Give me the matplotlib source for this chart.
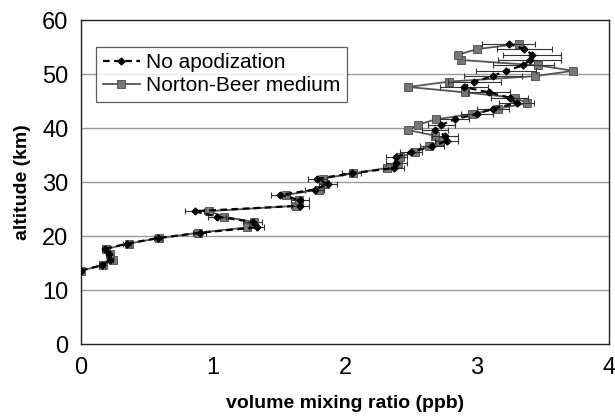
import matplotlib
matplotlib.use("Agg")
import matplotlib.pyplot as plt

plt.rcParams['font.family'] = ['Liberation Sans', 'DejaVu Sans']

altitude = [13.6, 14.6, 15.6, 16.6, 17.6, 18.6, 19.6, 20.6, 21.6, 22.6, 23.6, 24.6,
            25.6, 26.6, 27.6, 28.6, 29.6, 30.6, 31.6, 32.6, 33.6, 34.6, 35.6, 36.6,
            37.6, 38.6, 39.6, 40.6, 41.6, 42.6, 43.6, 44.6, 45.6, 46.6, 47.6, 48.6,
            49.6, 50.6, 51.6, 52.6, 53.6, 54.6, 55.6]

norton_beer = [0.00, 0.17, 0.24, 0.22, 0.19, 0.36, 0.59, 0.89, 1.26, 1.31, 1.08, 0.97,
               1.63, 1.65, 1.55, 1.80, 1.85, 1.83, 2.06, 2.32, 2.40, 2.42, 2.53, 2.64,
               2.72, 2.68, 2.48, 2.55, 2.69, 2.96, 3.16, 3.38, 3.29, 2.91, 2.48, 2.79,
               3.44, 3.73, 3.46, 2.88, 2.86, 3.00, 3.32]

no_apod = [0.00, 0.16, 0.22, 0.21, 0.18, 0.35, 0.58, 0.90, 1.33, 1.30, 1.03, 0.86,
           1.66, 1.66, 1.51, 1.77, 1.87, 1.79, 2.05, 2.37, 2.39, 2.39, 2.50, 2.66,
           2.77, 2.76, 2.68, 2.73, 2.83, 3.00, 3.12, 3.30, 3.25, 3.09, 2.90, 2.98,
           3.12, 3.22, 3.35, 3.40, 3.42, 3.36, 3.24]

no_apod_err = [0.00, 0.02, 0.02, 0.02, 0.02, 0.03, 0.03, 0.05, 0.06, 0.07, 0.07, 0.07,
               0.07, 0.07, 0.07, 0.07, 0.07, 0.07, 0.07, 0.08, 0.08, 0.08, 0.08, 0.09,
               0.09, 0.10, 0.10, 0.10, 0.11, 0.12, 0.12, 0.13, 0.14, 0.16, 0.18, 0.20,
               0.22, 0.23, 0.23, 0.24, 0.22, 0.21, 0.20]

xticks = [0, 1, 2, 3, 4]
yticks = [0, 10, 20, 30, 40, 50, 60]

fig = plt.figure(figsize=(6.15, 4.17), dpi=100)
ax = fig.add_axes([0.1317, 0.175, 0.8585, 0.777])

for y in yticks[1:-1]:
    ax.axhline(y, color='#9a9a9a', lw=1.0, zorder=0)

nb_line, = ax.plot(norton_beer, altitude, color='#555555', lw=1.3, marker='s', ms=6,
                   mfc='#777777', mec='#4a4a4a', mew=0.6, label='Norton-Beer medium',
                   zorder=2)

ax.errorbar(no_apod, altitude, xerr=no_apod_err, fmt='none', ecolor='#333333',
            elinewidth=0.8, capsize=2.5, capthick=0.8, zorder=3)
na_line, = ax.plot(no_apod, altitude, color='black', lw=1.6, ls=(0, (3, 2)), marker='D',
                   ms=3.5, mfc='black', mec='black', label='No apodization', zorder=4)

ax.set_xlim(0, 4)
ax.set_ylim(0, 60)
ax.set_xticks(xticks)
ax.set_yticks(yticks)
ax.tick_params(labelsize=17, length=0, pad=9)
for s in ax.spines.values():
    s.set_color('#222222')
    s.set_linewidth(1.0)

ax.set_xlabel('volume mixing ratio (ppb)', fontsize=14, fontweight='bold', labelpad=12)
ax.set_ylabel('altitude (km)', fontsize=14, fontweight='bold', labelpad=8)

leg = ax.legend(handles=[na_line, nb_line], loc='upper left',
                bbox_to_anchor=(0.029, 0.917), fontsize=15,
                frameon=True, fancybox=False, edgecolor='#333333', handlelength=1.8,
                borderpad=0.3, labelspacing=0.2, handletextpad=0.3, borderaxespad=0)
leg.get_frame().set_linewidth(0.9)

fig.savefig('out.png', dpi=100)
